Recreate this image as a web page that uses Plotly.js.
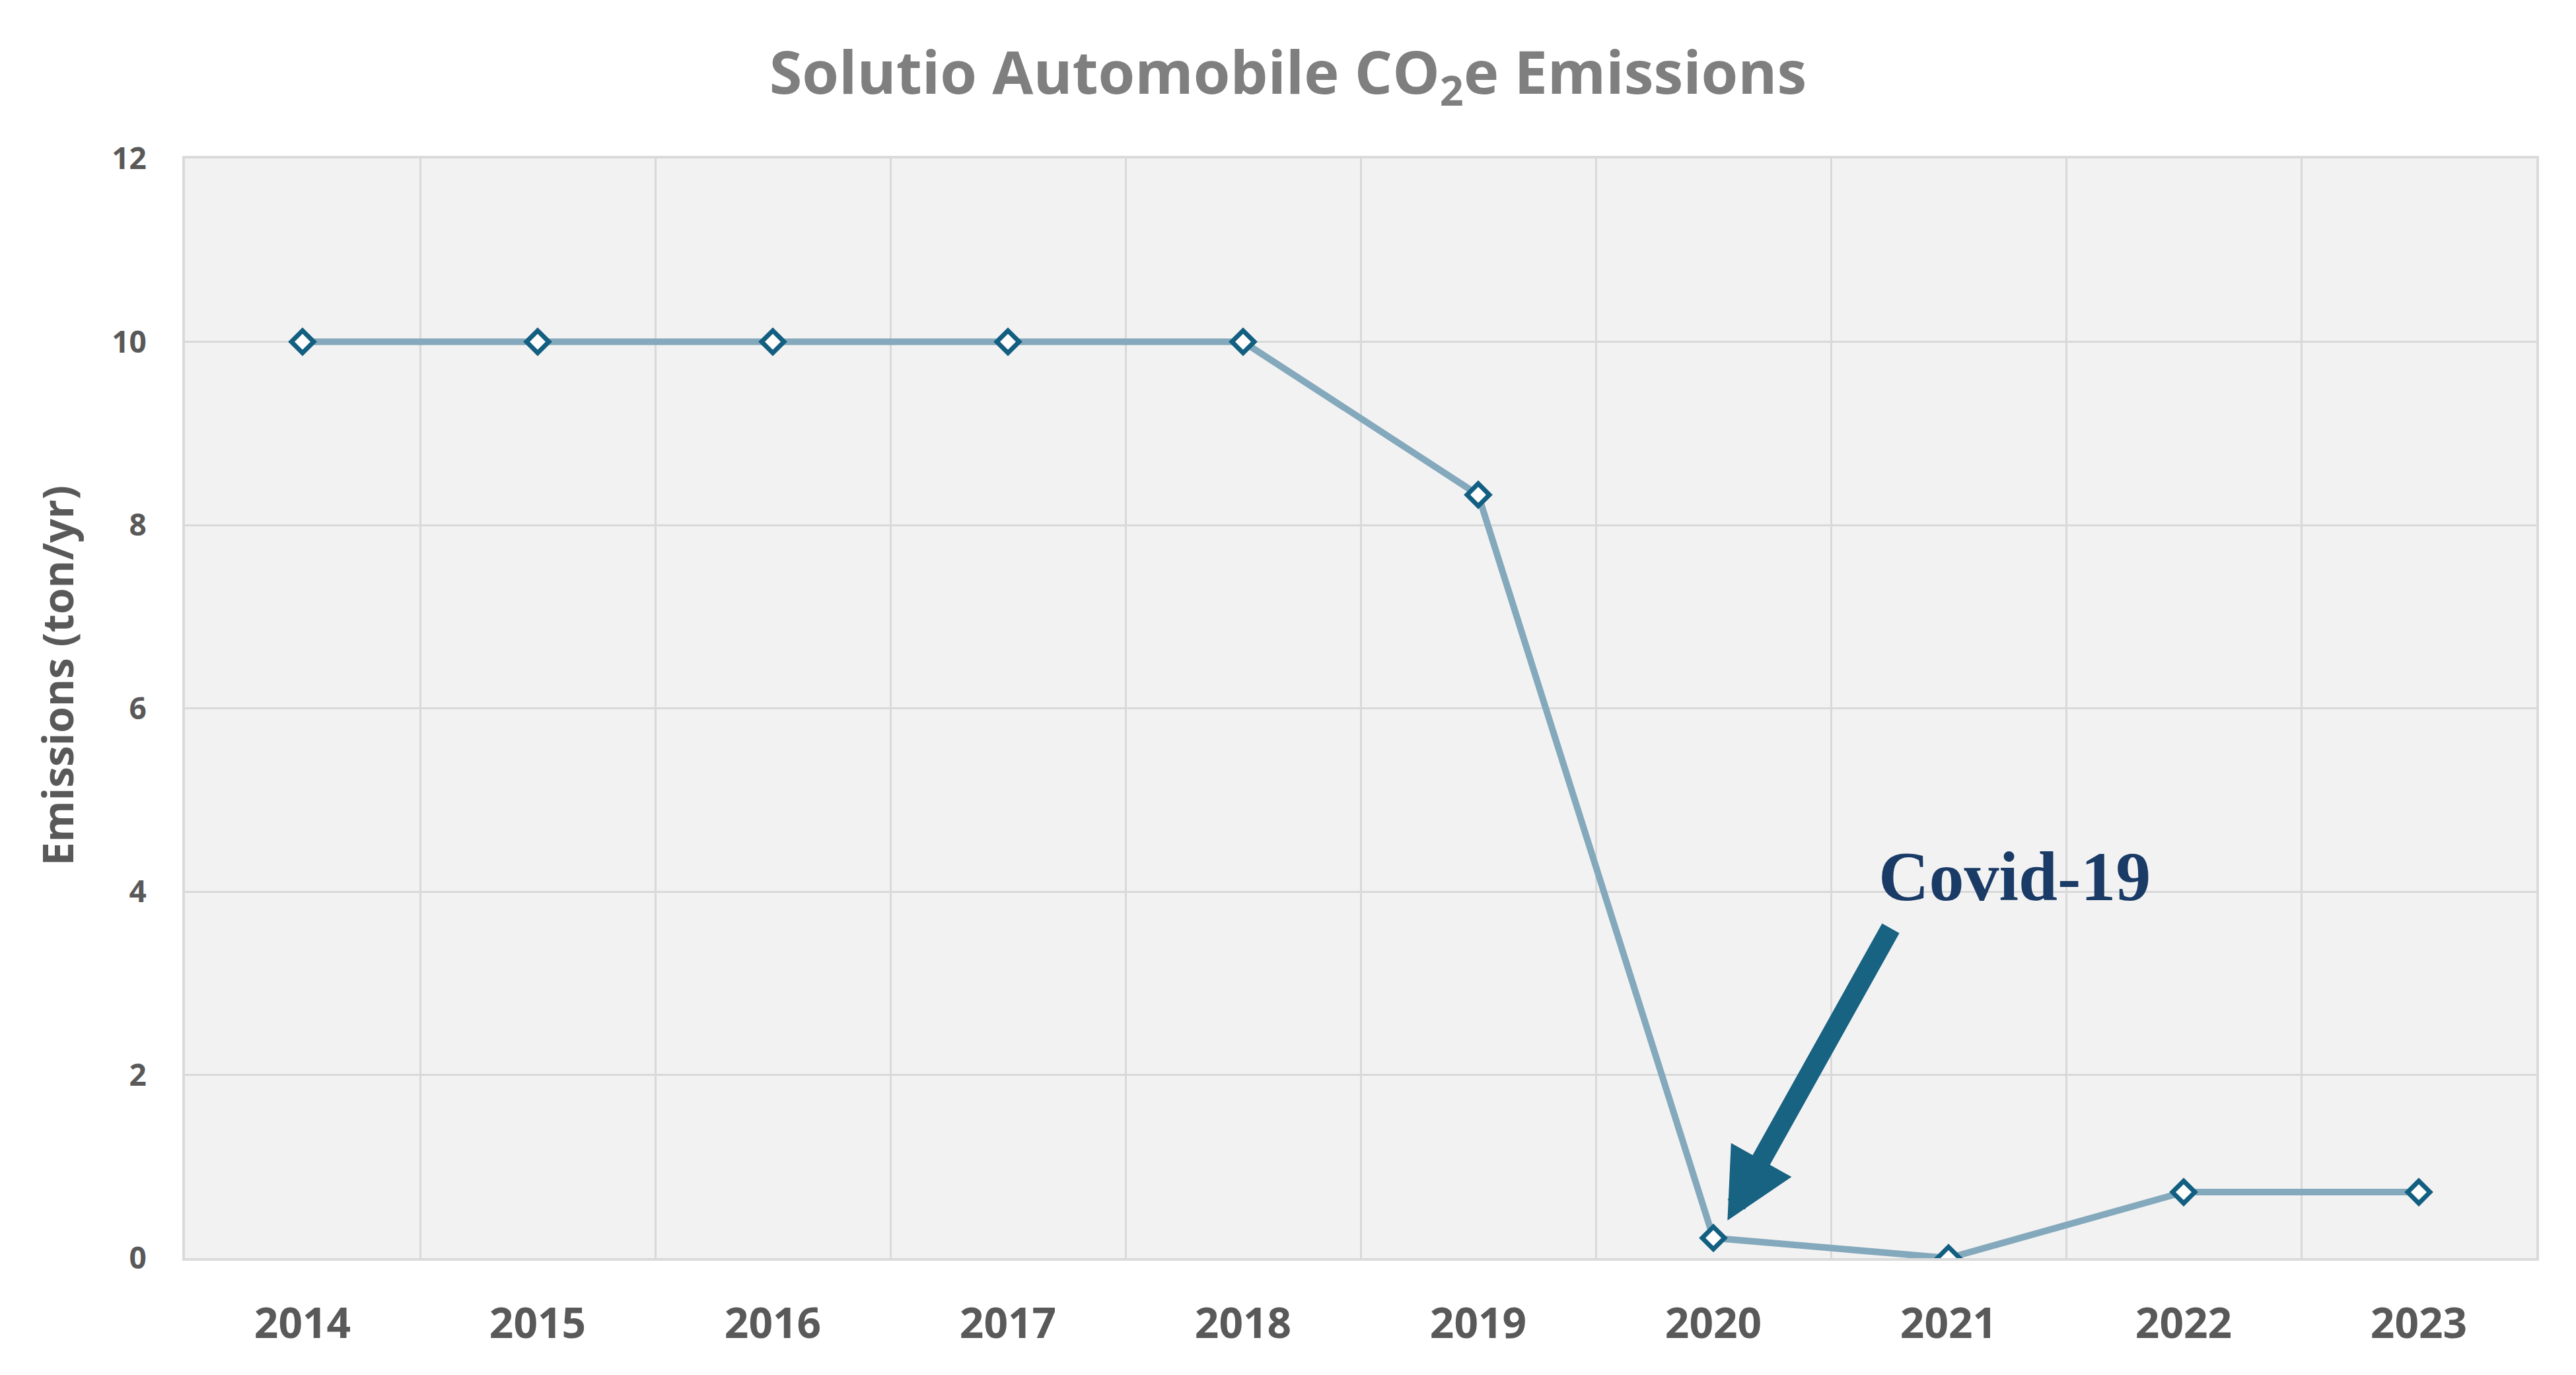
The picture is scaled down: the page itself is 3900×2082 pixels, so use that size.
<!DOCTYPE html>
<html>
<head>
<meta charset="utf-8">
<script src="https://cdn.plot.ly/plotly-3.0.1.min.js"></script>
<style>html,body{margin:0;padding:0;background:#fff;}#chart{width:3900px;height:2082px;}</style>
</head>
<body>
<div id="chart"></div>
<script>
const years = ["2014","2015","2016","2017","2018","2019","2020","2021","2022","2023"];
const emissions = [10, 10, 10, 10, 10, 8.33, 0.22, 0.0, 0.72, 0.72];
const yTicks = [0, 2, 4, 6, 8, 10, 12];
const titleText = "Solutio Automobile CO<sub>2</sub>e Emissions";
const yTitleText = "Emissions (ton/yr)";
const noteText = "Covid-19";

const trace = {
  x: years,
  y: emissions,
  type: "scatter",
  mode: "lines+markers",
  line: {color: "#84a9bc", width: 10},
  marker: {symbol: "diamond", size: 26, color: "#ffffff", line: {color: "#135f81", width: 7}},
  hoverinfo: "x+y"
};

const L = 280, R = 60, T = 240, B = 177;
const PW = 3900 - L - R, PH = 2082 - T - B;

const layout = {
  width: 3900,
  height: 2082,
  margin: {l: L, r: R, t: T, b: B},
  paper_bgcolor: "#ffffff",
  plot_bgcolor: "#f2f2f2",
  showlegend: false,
  title: {
    text: titleText,
    font: {family: "Open Sans", size: 90, color: "#7f7f7f", weight: 700},
    x: 0.5, xref: "container", xanchor: "center",
    y: 1 - 110/2082, yref: "container", yanchor: "middle"
  },
  xaxis: {
    type: "category",
    range: [-0.5, 9.5],
    tickson: "boundaries",
    ticks: "",
    showgrid: true,
    gridcolor: "#d9d9d9",
    gridwidth: 3,
    showline: true,
    linecolor: "#dadada",
    linewidth: 4,
    mirror: true,
    ticklabelstandoff: 40,
    tickfont: {family: "Open Sans", size: 64, color: "#595959", weight: 700},
    fixedrange: true
  },
  yaxis: {
    range: [0, 12],
    tickvals: yTicks,
    ticks: "",
    showgrid: true,
    gridcolor: "#d9d9d9",
    gridwidth: 3,
    zeroline: true,
    zerolinecolor: "#dadada",
    zerolinewidth: 4,
    showline: true,
    linecolor: "#dadada",
    linewidth: 4,
    mirror: true,
    ticklabelstandoff: 45,
    tickfont: {family: "Open Sans", size: 46, color: "#595959", weight: 700},
    fixedrange: true
  },
  annotations: [
    {
      text: yTitleText,
      xref: "paper", yref: "paper",
      x: (86 - L) / PW, y: (2082 - B - 1023) / PH,
      xanchor: "center", yanchor: "middle",
      textangle: -90,
      showarrow: false,
      font: {family: "Open Sans", size: 64, color: "#595959", weight: 700}
    },
    {
      text: "",
      xref: "x", yref: "y",
      x: 6.06, y: 0.41,
      ax: 248, ay: -444,
      showarrow: true,
      arrowhead: 2,
      arrowwidth: 30,
      arrowsize: 0.7,
      arrowcolor: "#186282",
      standoff: 0
    },
    {
      text: "<b>" + noteText + "</b>",
      xref: "x", yref: "y",
      x: 7.28, y: 4.16,
      xanchor: "center", yanchor: "middle",
      showarrow: false,
      font: {family: "Liberation Serif", size: 106, color: "#1a3b66"}
    }
  ]
};

Plotly.newPlot("chart", [trace], layout, {displayModeBar: false, staticPlot: true});
</script>
</body>
</html>
